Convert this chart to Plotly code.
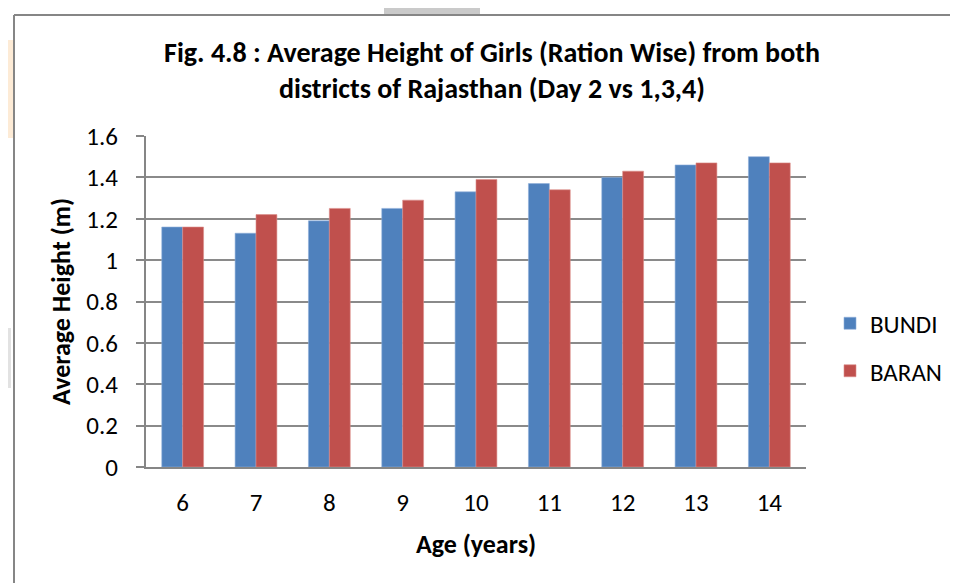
import plotly.graph_objects as go

ages = ["6", "7", "8", "9", "10", "11", "12", "13", "14"]
bundi = [1.16, 1.13, 1.19, 1.25, 1.33, 1.37, 1.40, 1.46, 1.50]
baran = [1.16, 1.22, 1.25, 1.29, 1.39, 1.34, 1.43, 1.47, 1.47]
y_ticks = [0, 0.2, 0.4, 0.6, 0.8, 1, 1.2, 1.4, 1.6]
y_tick_labels = ["0", "0.2", "0.4", "0.6", "0.8", "1", "1.2", "1.4", "1.6"]

OFF = 8  # page body margin
W, H = 958 - OFF, 583 - OFF
# plot area in page px
PL, PR, PT, PB = 146, 806, 136, 467
L, R, T, B = PL - OFF, PR - OFF, PT - OFF, PB - OFF

def px(x):  # page x -> paper
    return (x - OFF - L) / (R - L)

def py(y):  # page y -> paper
    return (B - (y - OFF)) / (B - T)

FONT = "Carlito, Calibri, 'Liberation Sans Narrow', 'Open Sans', sans-serif"

fig = go.Figure()
fig.add_trace(go.Bar(x=ages, y=bundi, name="BUNDI", legendgroup="a",
                     marker=dict(color="#4F81BD", line=dict(color="#8FAEDA", width=0.6))))
fig.add_trace(go.Bar(x=ages, y=baran, name="BARAN", legendgroup="b",
                     marker=dict(color="#C0504D", line=dict(color="#DC8E8C", width=0.6))))

shapes = [
    # watermark remnants outside the chart box
    dict(type="rect", xref="paper", yref="paper", x0=px(0), x1=px(13), y0=py(40), y1=py(138),
         fillcolor="#FDEBD6", line=dict(width=0), layer="below"),
    dict(type="rect", xref="paper", yref="paper", x0=px(384), x1=px(480), y0=py(0), y1=py(14),
         fillcolor="#CACACA", line=dict(width=0), layer="below"),
    dict(type="rect", xref="paper", yref="paper", x0=px(0), x1=px(11), y0=py(328), y1=py(388),
         fillcolor="#E2E2E2", line=dict(width=0), layer="below"),
    # chart box border (left and top visible)
    dict(type="line", xref="paper", yref="paper", x0=px(14), x1=px(14), y0=py(15), y1=py(600),
         line=dict(color="#868686", width=2)),
    dict(type="line", xref="paper", yref="paper", x0=px(14), x1=px(975), y0=py(15), y1=py(15),
         line=dict(color="#868686", width=2)),
]

fig.update_layout(
    width=W, height=H,
    margin=dict(l=L, r=W - R, t=T, b=H - B, pad=0, autoexpand=False),
    paper_bgcolor="white", plot_bgcolor="white",
    font=dict(family=FONT, color="black", size=25),
    title=dict(text="<b>Fig. 4.8 : Average Height of Girls (Ration Wise) from both<br>districts of Rajasthan (Day 2 vs 1,3,4)</b>",
               x=(492 - OFF) / W, xanchor="center", y=1 - (62 - OFF) / H, yanchor="middle",
               font=dict(size=28, family=FONT, color="black")),
    barmode="group", bargap=0.43, bargroupgap=0,
    showlegend=True,
    legend=dict(x=px(830), xanchor="left", y=py(347), yanchor="middle",
                font=dict(size=25, family=FONT, color="black"),
                tracegroupgap=12, itemwidth=30, bgcolor="rgba(0,0,0,0)"),
    shapes=shapes,
)

fig.update_xaxes(
    showline=True, linecolor="#868686", linewidth=2,
    showgrid=False, ticks="", ticklabelstandoff=12,
    tickfont=dict(size=25, family=FONT, color="black"),
    title=dict(text="<b>Age (years)</b>", font=dict(size=26, family=FONT, color="black"), standoff=18),
)
fig.update_yaxes(
    range=[0, 1.6], tickvals=y_ticks, ticktext=y_tick_labels,
    showline=True, linecolor="#868686", linewidth=2,
    showgrid=True, gridcolor="#8A8A8A", gridwidth=1.6,
    ticks="outside", ticklen=8, tickcolor="#868686", tickwidth=1.6,
    ticklabelstandoff=13,
    tickfont=dict(size=25, family=FONT, color="black"),
    title=dict(text="<b>Average Height (m)</b>", font=dict(size=26, family=FONT, color="black"), standoff=8),
    zeroline=False,
)

fig.write_html("out.html")
